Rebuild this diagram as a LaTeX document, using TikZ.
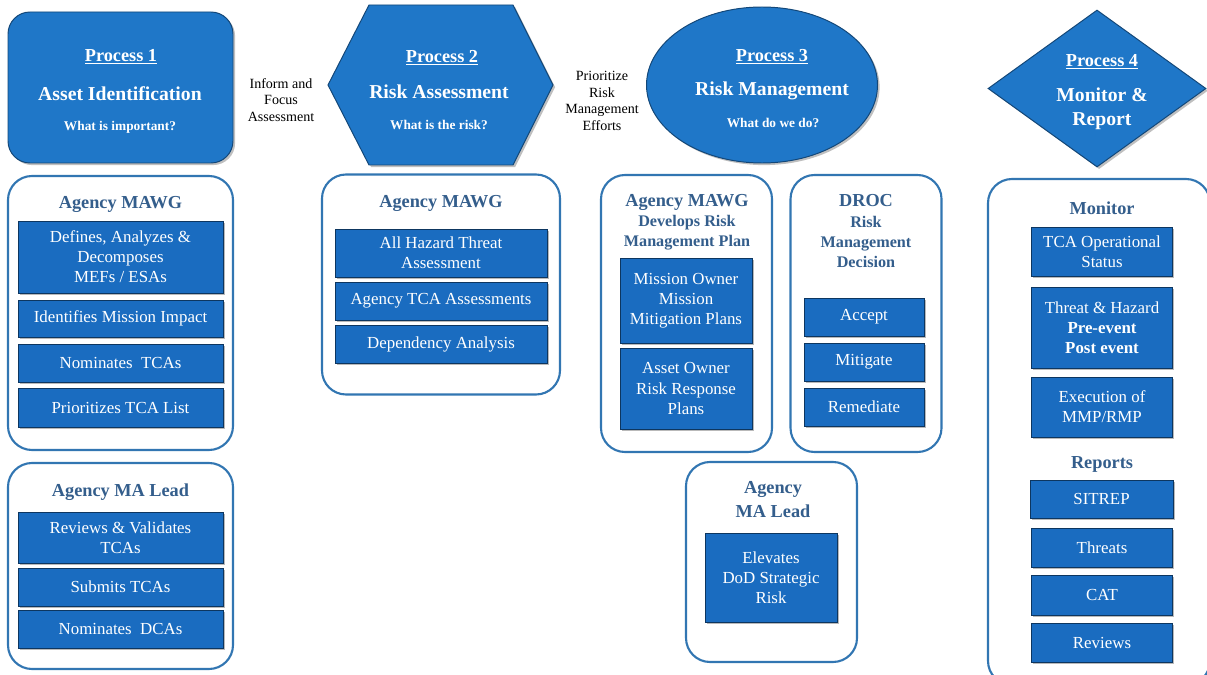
\documentclass[tikz,border=0pt]{standalone}
\usepackage{fontspec}
\setmainfont{Liberation Serif}
\usetikzlibrary{shapes.geometric,shadows}
\definecolor{procblue}{RGB}{31,119,200}
\definecolor{boxblue}{RGB}{26,108,192}
\definecolor{panelblue}{RGB}{50,118,178}
\definecolor{titleblue}{RGB}{52,94,140}
\tikzset{
  sz/.style 2 args={minimum width=#1*0.025cm, minimum height=#2*0.025cm},
  proc/.style={fill=procblue, draw=procblue!60!black, line width=0.7pt, inner sep=0pt,
    drop shadow={shadow xshift=1.5pt, shadow yshift=-1.5pt, opacity=0.5}},
  prochead/.style={text=white, font=\bfseries\fontsize{13}{15}\selectfont},
  procname/.style={text=white, font=\bfseries\fontsize{14}{17}\selectfont, align=center},
  procask/.style={text=white, font=\bfseries\fontsize{9.5}{11}\selectfont},
  flowtxt/.style={align=center, font=\fontsize{10}{12}\selectfont},
  panel/.style={draw=panelblue, line width=1.5pt, rounded corners=0.6cm, fill=white, inner sep=0pt},
  ttl/.style={text=titleblue, align=center, font=\bfseries\fontsize{13}{17}\selectfont},
  subttl/.style={text=titleblue, align=center, font=\bfseries\fontsize{11.5}{14}\selectfont},
  tbox/.style={fill=boxblue, draw=boxblue!50!black, line width=0.7pt, text=white, align=center,
    inner sep=1pt, font=\fontsize{12}{14.3}\selectfont,
    drop shadow={shadow xshift=1.1pt, shadow yshift=-1.1pt, opacity=0.55}}
}
\begin{document}
\begin{tikzpicture}[x=0.025cm,y=-0.025cm]
\useasboundingbox (0,0) rectangle (1207,675);

% process shapes
\node[proc, rounded corners=0.55cm, sz={225}{151}] (p1) at (120.5,87.5) {};
\node[prochead] (p1a) at (121,57) {\underline{Process 1}};
\node[procname] (p1b) at (120,94) {Asset Identification};
\node[procask] (p1c) at (120,127) {What is important?};

\node[flowtxt] (inform) at (281,100) {Inform and\\Focus\\Assessment};

\draw[proc] (328,85) -- (369,5) -- (513,5) -- (553,85) -- (513,165) -- (369,165) -- cycle;
\coordinate (p2) at (441,85);
\node[prochead] (p2a) at (442,58) {\underline{Process 2}};
\node[procname] (p2b) at (439,92) {Risk Assessment};
\node[procask] (p2c) at (439,125) {What is the risk?};

\node[flowtxt, font=\fontsize{10}{11.9}\selectfont] (prior) at (602,101) {Prioritize\\Risk\\Management\\Efforts};

\node[proc, ellipse, sz={231}{156}] (p3) at (762,85) {};
\node[prochead] (p3a) at (772,57) {\underline{Process 3}};
\node[procname] (p3b) at (772,91) {Risk Management};
\node[procask] (p3c) at (773,123) {What do we do?};

\node[proc, diamond, sz={218}{157}] (p4) at (1097,88.5) {};
\node[prochead] (p4a) at (1102,62) {\underline{Process 4}};
\node[procname] (p4b) at (1102,109) {Monitor \&\\Report};

% panels, column 1
\node[panel, sz={225}{274}] (mawgA) at (120.5,313) {};
\node[ttl] (mawgAt) at (120.5,204) {Agency MAWG};
\node[tbox, sz={205}{72}] (a1) at (120.5,257) {Defines, Analyzes \&\\Decomposes\\MEFs / ESAs};
\node[tbox, sz={205}{37}] (a2) at (120.5,318.5) {Identifies Mission Impact};
\node[tbox, sz={205}{38}] (a3) at (120.5,363) {Nominates\ \ TCAs};
\node[tbox, sz={205}{39}] (a4) at (120.5,407.5) {Prioritizes TCA List};

\node[panel, sz={225}{206}] (leadA) at (120.5,566) {};
\node[ttl] (leadAt) at (120.5,492) {Agency MA Lead};
\node[tbox, sz={205}{51}] (b1) at (120.5,537.5) {Reviews \& Validates\\TCAs};
\node[tbox, sz={205}{38}] (b2) at (120.5,587) {Submits TCAs};
\node[tbox, sz={205}{38}] (b3) at (120.5,629) {Nominates\ \ DCAs};

% column 2
\node[panel, sz={238}{220}] (mawgB) at (441,284.5) {};
\node[ttl] (mawgBt) at (441,203) {Agency MAWG};
\node[tbox, sz={212}{48}] (c1) at (441,253) {All Hazard Threat\\Assessment};
\node[tbox, sz={212}{38}] (c2) at (441,301) {Agency TCA Assessments};
\node[tbox, sz={212}{38}] (c3) at (441,344) {Dependency Analysis};

% column 3
\node[panel, sz={171}{277}] (mawgC) at (686.5,313.5) {};
\node[ttl] (mawgCt) at (687,202) {Agency MAWG};
\node[subttl] (mawgCs) at (687,233) {Develops Risk\\Management Plan};
\node[tbox, sz={132}{85}] (d1) at (686,300.5) {Mission Owner\\Mission\\Mitigation Plans};
\node[tbox, sz={132}{81}] (d2) at (686,388.5) {Asset Owner\\Risk Response\\Plans};

\node[panel, sz={151}{277}] (droc) at (866,313.5) {};
\node[ttl] (droct) at (866,201) {DROC};
\node[subttl] (drocs) at (866,242) {Risk\\Management\\Decision};
\node[tbox, sz={120}{38}] (e1) at (864,317) {Accept};
\node[tbox, sz={120}{38}] (e2) at (864,362) {Mitigate};
\node[tbox, sz={120}{38}] (e3) at (864,407) {Remediate};

\node[panel, sz={171}{200}] (leadC) at (771.5,562) {};
\node[ttl] (leadCt) at (773,500) {Agency\\MA Lead};
\node[tbox, sz={132}{89}] (f1) at (771,577.5) {Elevates\\DoD Strategic\\Risk};

% column 4
\node[panel, sz={222}{506}] (mon) at (1099,432) {};
\node[ttl] (mont) at (1102,208) {Monitor};
\node[tbox, sz={141}{49}] (g1) at (1102,251.5) {TCA Operational\\Status};
\node[tbox, sz={141}{81}] (g2) at (1102,327.5) {Threat \& Hazard\\\textbf{Pre-event}\\\textbf{Post event}};
\node[tbox, sz={141}{60}] (g3) at (1102,407) {Execution of\\MMP/RMP};
\node[ttl] (rept) at (1102,464) {Reports};
\node[tbox, sz={143}{38}] (h1) at (1101.5,499) {SITREP};
\node[tbox, sz={141}{39}] (h2) at (1102,547.5) {Threats};
\node[tbox, sz={141}{40}] (h3) at (1102,595) {CAT};
\node[tbox, sz={141}{39}] (h4) at (1102,642.5) {Reviews};
\end{tikzpicture}
\end{document}
